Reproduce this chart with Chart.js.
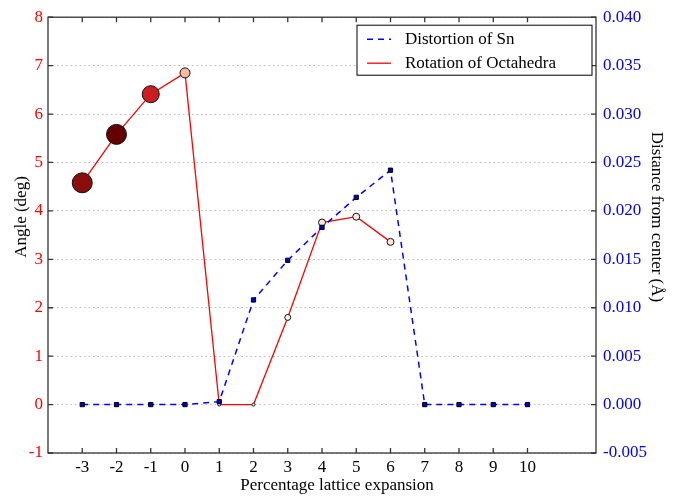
<!DOCTYPE html>
<html>
<head>
<meta charset="utf-8">
<script src="https://cdn.jsdelivr.net/npm/chart.js@4.4.0/dist/chart.umd.min.js"></script>
<style>
  body { margin: 0; background: #fff; }
  #wrap { width: 676px; height: 496px; }
</style>
</head>
<body>
<div id="wrap"><canvas id="plot" width="676" height="496"></canvas></div>
<script>
// values
let lattice_x = [-3, -2, -1, 0, 1, 2, 3, 4, 5, 6, 7, 8, 9, 10];
let distortion_sn = [0, 0, 0, 0, 0.0003, 0.0108, 0.0149, 0.0183, 0.0214, 0.0242, 0, 0, 0, 0];
let rotation_x = [-3, -2, -1, 0, 1, 2, 3, 4, 5, 6];
let rotation_oct = [4.58, 5.58, 6.41, 6.85, 0, 0, 1.80, 3.76, 3.88, 3.36];

let x_ticks = [-3, -2, -1, 0, 1, 2, 3, 4, 5, 6, 7, 8, 9, 10];
let angle_ticks = [-1, 0, 1, 2, 3, 4, 5, 6, 7, 8];
let dist_ticks = [-0.005, 0, 0.005, 0.010, 0.015, 0.020, 0.025, 0.030, 0.035, 0.040];

// marker look of the rotation points (colour scale + size)
let rot_colors = ['#8c0d0d', '#650000', '#cc1e20', '#fcbba1', '#fff5f0', '#fff5f0', '#fff0ea', '#ffe8e0', '#fee5d9', '#fee5d9'];
let rot_radius = [10, 10, 8.5, 5, 1.5, 1.5, 3, 3.5, 3.5, 3.5];

const FONT = 'Liberation Serif, Times New Roman, serif';
Chart.defaults.font.family = FONT;
Chart.defaults.font.size = 17;

function set_ticks(list) {
    return function (scale) {
        scale.ticks = list.map(v => ({ value: v }));
    };
}

// frame, inward ticks, legend box and axis titles
const frame_plugin = {
    id: 'frame',
    afterDraw(chart) {
        const ctx = chart.ctx;
        const a = chart.chartArea;
        const sx = chart.scales.x, sl = chart.scales.yAngle, sr = chart.scales.yDist;
        ctx.save();
        ctx.strokeStyle = '#333';
        ctx.lineWidth = 1.3;
        ctx.setLineDash([]);
        ctx.strokeRect(a.left, a.top, a.right - a.left, a.bottom - a.top);
        ctx.beginPath();
        x_ticks.forEach(v => {
            let px = sx.getPixelForValue(v);
            ctx.moveTo(px, a.bottom); ctx.lineTo(px, a.bottom - 5);
            ctx.moveTo(px, a.top); ctx.lineTo(px, a.top + 5);
        });
        angle_ticks.forEach(v => {
            let py = sl.getPixelForValue(v);
            ctx.moveTo(a.left, py); ctx.lineTo(a.left + 5, py);
        });
        dist_ticks.forEach(v => {
            let py = sr.getPixelForValue(v);
            ctx.moveTo(a.right, py); ctx.lineTo(a.right - 5, py);
        });
        ctx.stroke();

        // legend
        let bx = a.right - 239, by = a.top + 8, bw = 235, bh = 50;
        ctx.fillStyle = '#fff';
        ctx.fillRect(bx, by, bw, bh);
        ctx.strokeStyle = '#000';
        ctx.lineWidth = 1;
        ctx.strokeRect(bx, by, bw, bh);
        ctx.font = '17px ' + FONT;
        ctx.textBaseline = 'middle';
        ctx.textAlign = 'left';
        chart.data.datasets.forEach((ds, i) => {
            let ry = by + 14 + i * 24;
            ctx.beginPath();
            ctx.strokeStyle = ds.borderColor;
            ctx.lineWidth = ds.borderWidth;
            ctx.setLineDash(ds.borderDash || []);
            ctx.moveTo(bx + 10, ry);
            ctx.lineTo(bx + 34, ry);
            ctx.stroke();
            ctx.setLineDash([]);
            ctx.fillStyle = '#000';
            ctx.fillText(ds.label, bx + 48, ry);
        });

        // axis titles
        ctx.fillStyle = '#000';
        ctx.textAlign = 'center';
        ctx.fillText('Percentage lattice expansion', (a.left + a.right) / 2 + 15, 486);
        ctx.save();
        ctx.translate(22, 217);
        ctx.rotate(-Math.PI / 2);
        ctx.fillText('Angle (deg)', 0, 0);
        ctx.restore();
        ctx.save();
        ctx.translate(656, 217);
        ctx.rotate(Math.PI / 2);
        ctx.fillText('Distance from center (Å)', 0, 0);
        ctx.restore();
        ctx.restore();
    }
};

let ctx = document.getElementById('plot');
let chart = new Chart(ctx, {
    type: 'scatter',
    data: {
        datasets: [
            {
                label: 'Distortion of Sn',
                data: lattice_x.map((x, i) => ({ x: x, y: distortion_sn[i] })),
                yAxisID: 'yDist',
                showLine: true,
                borderColor: '#0000ff',
                borderWidth: 1.5,
                borderDash: [6, 5],
                pointStyle: 'rect',
                pointRadius: 3,
                pointBackgroundColor: '#0000cc',
                pointBorderColor: '#000',
                pointBorderWidth: 1
            },
            {
                label: 'Rotation of Octahedra',
                data: rotation_x.map((x, i) => ({ x: x, y: rotation_oct[i] })),
                yAxisID: 'yAngle',
                showLine: true,
                borderColor: '#ff0000',
                borderWidth: 1.3,
                pointRadius: rot_radius,
                pointBackgroundColor: rot_colors,
                pointBorderColor: '#111',
                pointBorderWidth: 1
            }
        ]
    },
    options: {
        responsive: false,
        animation: false,
        layout: { padding: { top: 16, left: 0, right: 0, bottom: 0 } },
        plugins: {
            legend: { display: false },
            tooltip: { enabled: false }
        },
        scales: {
            x: {
                type: 'linear',
                min: -4,
                max: 12,
                afterBuildTicks: set_ticks(x_ticks),
                afterFit: s => { s.height = 43; },
                grid: { display: false, drawTicks: false },
                border: { display: false },
                ticks: { color: '#000', padding: 4, maxRotation: 0, autoSkip: false }
            },
            yAngle: {
                type: 'linear',
                position: 'left',
                min: -1,
                max: 8,
                afterBuildTicks: set_ticks(angle_ticks),
                afterFit: s => { s.width = 48; },
                grid: { color: '#bdbdbd', lineWidth: 1, drawTicks: false },
                border: { display: false, dash: [1.5, 3] },
                ticks: { color: '#ff0000', padding: 5 }
            },
            yDist: {
                type: 'linear',
                position: 'right',
                min: -0.005,
                max: 0.04,
                afterBuildTicks: set_ticks(dist_ticks),
                afterFit: s => { s.width = 80; },
                grid: { drawOnChartArea: false, drawTicks: false },
                border: { display: false },
                ticks: { color: '#0000ff', padding: 7, callback: v => v.toFixed(3) }
            }
        }
    },
    plugins: [frame_plugin]
});
</script>
</body>
</html>
